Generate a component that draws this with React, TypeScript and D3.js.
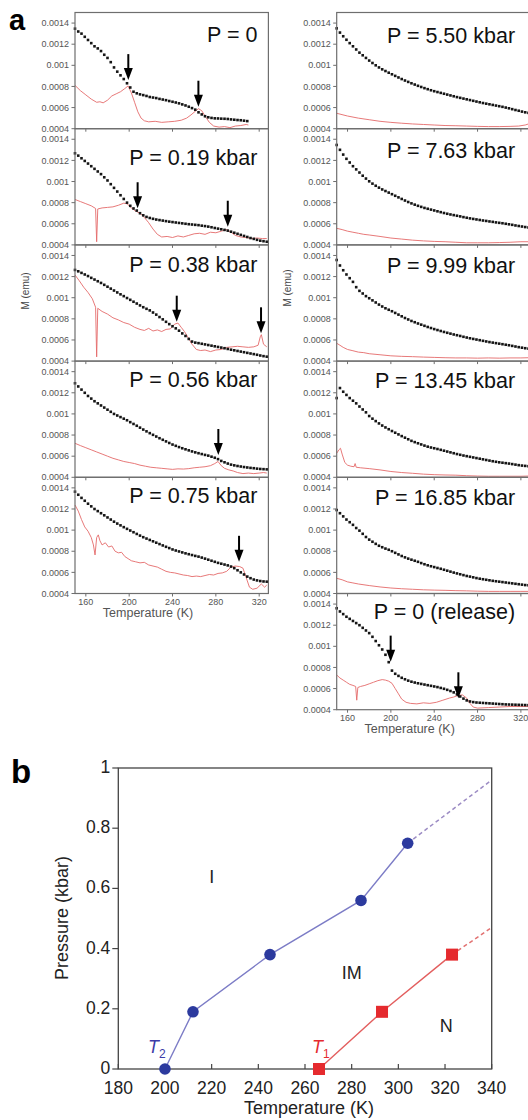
import React, { useRef, useEffect } from "react";
import * as d3 from "d3";

// temperature grid of the black M(T) dots (K)
const temps = [150, 153, 156, 159, 162, 165, 168, 171, 174, 177, 180, 183, 186, 189, 192, 195, 198, 201, 204, 207,
  210, 213, 216, 219, 222, 225, 228, 231, 234, 237, 240, 243, 246, 249, 252, 255, 258, 261, 264, 267,
  270, 273, 276, 279, 282, 285, 288, 291, 294, 297, 300, 303, 306, 309, 312, 315, 318, 321, 324, 327];

// black dots, M in units of 1e-4 emu, one value per entry of temps
const mP000 = [13.47, 13.2, 13.0, 12.7, 12.4, 12.1, 11.8, 11.6, 11.35, 11.0, 10.7, 10.3, 9.8, 9.4, 9.05, 8.7, 8.3, 7.9, 7.5, 7.35,
  7.25, 7.18, 7.1, 7.0, 6.95, 6.9, 6.82, 6.76, 6.7, 6.62, 6.55, 6.48, 6.4, 6.3, 6.2, 6.08, 5.95, 5.8, 5.55, 5.35,
  5.18, 5.08, 5.02, 4.98, 4.97, 4.95, 4.94, 4.92, 4.88, 4.85, 4.82, 4.8, 4.76, 4.72];
const mP019 = [12.67, 12.45, 12.2, 11.95, 11.7, 11.45, 11.2, 10.95, 10.7, 10.4, 10.1, 9.75, 9.4, 9.05, 8.7, 8.35, 8.0, 7.7, 7.45, 7.25,
  7.0, 6.8, 6.65, 6.55, 6.47, 6.4, 6.35, 6.3, 6.25, 6.2, 6.16, 6.12, 6.08, 6.04, 6.0, 5.96, 5.93, 5.9, 5.87, 5.82,
  5.78, 5.73, 5.67, 5.6, 5.54, 5.48, 5.42, 5.35, 5.25, 5.15, 5.05, 4.95, 4.85, 4.75, 4.65, 4.57, 4.48, 4.4, 4.35, 4.3];
const mP038 = [12.63, 12.5, 12.35, 12.2, 12.05, 11.88, 11.72, 11.56, 11.4, 11.22, 11.04, 10.86, 10.68, 10.5, 10.32, 10.15, 9.97, 9.8, 9.62, 9.45,
  9.27, 9.1, 8.95, 8.8, 8.6, 8.4, 8.17, 7.95, 7.72, 7.5, 7.3, 7.1, 6.88, 6.62, 6.38, 6.1, 5.85, 5.75, 5.7, 5.64,
  5.58, 5.52, 5.46, 5.4, 5.34, 5.28, 5.22, 5.15, 5.08, 5.02, 4.96, 4.9, 4.84, 4.78, 4.72, 4.66, 4.6, 4.53, 4.47, 4.42];
const mP056 = [12.9, 12.6, 12.3, 12.0, 11.7, 11.45, 11.2, 11.0, 10.8, 10.6, 10.4, 10.2, 10.0, 9.85, 9.7, 9.55, 9.4, 9.22, 9.05, 8.88,
  8.7, 8.52, 8.35, 8.18, 8.02, 7.86, 7.7, 7.55, 7.4, 7.25, 7.1, 6.98, 6.86, 6.75, 6.65, 6.55, 6.45, 6.36, 6.28, 6.2,
  6.12, 6.05, 5.95, 5.85, 5.72, 5.55, 5.42, 5.3, 5.2, 5.13, 5.07, 5.02, 4.97, 4.93, 4.89, 4.86, 4.82, 4.79, 4.77, 4.75];
const mP075 = [13.64, 13.35, 13.05, 12.78, 12.5, 12.25, 12.0, 11.8, 11.6, 11.4, 11.2, 11.0, 10.8, 10.62, 10.45, 10.28, 10.12, 9.96, 9.8, 9.64,
  9.48, 9.33, 9.2, 9.07, 8.94, 8.81, 8.68, 8.55, 8.42, 8.3, 8.17, 8.07, 7.98, 7.89, 7.8, 7.72, 7.64, 7.56, 7.49, 7.4,
  7.3, 7.2, 7.1, 7.0, 6.9, 6.82, 6.74, 6.66, 6.55, 6.4, 6.2, 6.0, 5.8, 5.6, 5.45, 5.32, 5.24, 5.18, 5.14, 5.12];
const mP550 = [13.5, 13.1, 12.75, 12.42, 12.1, 11.8, 11.5, 11.2, 10.95, 10.7, 10.45, 10.22, 10.0, 9.8, 9.62, 9.46, 9.3, 9.15, 9.0, 8.85,
  8.7, 8.56, 8.43, 8.3, 8.18, 8.06, 7.95, 7.84, 7.74, 7.64, 7.55, 7.47, 7.39, 7.31, 7.23, 7.15, 7.07, 6.99, 6.92, 6.85,
  6.78, 6.71, 6.64, 6.57, 6.5, 6.43, 6.37, 6.31, 6.25, 6.19, 6.13, 6.07, 6.0, 5.93, 5.85, 5.77, 5.7, 5.62, 5.55, 5.5];
const mP763 = [13.46, 13.0, 12.55, 12.15, 11.8, 11.45, 11.15, 10.85, 10.55, 10.28, 10.02, 9.8, 9.6, 9.42, 9.25, 9.1, 8.95, 8.8, 8.65, 8.5,
  8.35, 8.2, 8.06, 7.93, 7.81, 7.7, 7.6, 7.5, 7.42, 7.34, 7.26, 7.18, 7.1, 7.02, 6.95, 6.88, 6.82, 6.76, 6.7, 6.63,
  6.57, 6.51, 6.46, 6.41, 6.36, 6.31, 6.27, 6.22, 6.18, 6.13, 6.09, 6.05, 6.0, 5.95, 5.9, 5.84, 5.79, 5.74, 5.69, 5.65];
const mP999 = [13.57, 13.05, 12.6, 12.2, 11.85, 11.5, 11.0, 10.65, 10.4, 10.15, 9.95, 9.75, 9.55, 9.35, 9.17, 9.0, 8.86, 8.72, 8.56, 8.4,
  8.24, 8.08, 7.94, 7.8, 7.68, 7.56, 7.45, 7.34, 7.23, 7.13, 7.03, 6.94, 6.85, 6.76, 6.68, 6.6, 6.52, 6.45, 6.38, 6.3,
  6.23, 6.16, 6.1, 6.04, 5.98, 5.92, 5.86, 5.8, 5.75, 5.7, 5.65, 5.6, 5.55, 5.5, 5.44, 5.38, 5.32, 5.27, 5.22, 5.18];
const mP1345 = [11.5, 12.45, 12.1, 11.8, 11.5, 11.25, 11.0, 10.7, 10.42, 10.15, 9.8, 9.55, 9.32, 9.1, 8.9, 8.72, 8.55, 8.38, 8.22, 8.06,
  7.9, 7.75, 7.6, 7.45, 7.33, 7.22, 7.11, 7.0, 6.9, 6.82, 6.75, 6.68, 6.6, 6.52, 6.44, 6.36, 6.28, 6.2, 6.13, 6.06,
  6.0, 5.94, 5.88, 5.82, 5.76, 5.7, 5.64, 5.58, 5.52, 5.47, 5.42, 5.38, 5.34, 5.3, 5.25, 5.2, 5.15, 5.11, 5.08, 5.05];
const mP1685 = [11.9, 11.6, 11.3, 11.0, 10.75, 10.5, 10.2, 9.95, 9.65, 9.35, 9.1, 8.9, 8.7, 8.52, 8.38, 8.25, 8.14, 8.0, 7.85, 7.7,
  7.55, 7.42, 7.3, 7.2, 7.1, 7.0, 6.88, 6.77, 6.67, 6.58, 6.5, 6.42, 6.34, 6.25, 6.16, 6.07, 5.98, 5.9, 5.82, 5.74,
  5.66, 5.6, 5.53, 5.46, 5.4, 5.35, 5.3, 5.25, 5.2, 5.16, 5.12, 5.08, 5.04, 5.0, 4.96, 4.92, 4.88, 4.84, 4.8, 4.78];
const mRelease = [13.6, 13.3, 13.05, 12.8, 12.6, 12.4, 12.2, 12.0, 11.75, 11.5, 11.25, 10.9, 10.5, 10.1, 9.7, 9.2, 8.5, 7.7, 7.4, 7.2,
  7.02, 6.88, 6.75, 6.65, 6.57, 6.5, 6.44, 6.38, 6.32, 6.26, 6.2, 6.14, 6.06, 5.98, 5.88, 5.77, 5.64, 5.45, 5.25, 5.05,
  4.88, 4.78, 4.72, 4.68, 4.66, 4.64, 4.62, 4.6, 4.58, 4.56, 4.54, 4.52, 4.5, 4.49, 4.48, 4.47, 4.46, 4.45, 4.44, 4.43];

// red traces, [T (K), value in 1e-4 emu]
const rP000 = [[150, 8.1], [155, 7.6], [160, 7.2], [165, 6.8], [170, 6.5], [173, 6.55], [176, 6.45], [180, 6.7], [184, 7.1], [188, 7.3],
  [192, 7.5], [196, 7.8], [199, 8.05], [202, 7.4], [205, 6.5], [208, 5.6], [211, 5.0], [214, 4.75], [218, 4.65], [224, 4.7],
  [230, 4.6], [236, 4.65], [242, 4.7], [248, 4.8], [253, 5.0], [257, 5.3], [261, 5.65], [264, 5.9], [267, 5.7], [270, 5.2],
  [274, 4.6], [278, 4.25], [283, 4.15], [288, 4.2], [293, 4.1], [298, 4.25], [303, 4.3], [308, 4.4], [310, 4.35]];
const rP019 = [[150, 8.3], [155, 8.1], [160, 7.9], [165, 7.7], [169, 7.45], [170, 4.3], [171, 7.4], [175, 7.5], [180, 7.55], [185, 7.6],
  [190, 7.75], [195, 7.95], [198, 7.9], [202, 7.5], [206, 7.2], [210, 7.0], [214, 6.6], [218, 6.1], [222, 5.5], [226, 5.0],
  [230, 4.75], [235, 4.8], [240, 4.7], [245, 4.85], [250, 4.75], [255, 4.9], [260, 5.05], [265, 5.1], [270, 5.0], [275, 5.2],
  [280, 5.15], [285, 5.3], [290, 5.45], [294, 5.2], [298, 4.9], [303, 4.75], [308, 4.7], [313, 4.6], [318, 4.65], [323, 4.6], [327, 4.6]];
const rP038 = [[150, 12.15], [154, 11.6], [158, 11.0], [162, 10.5], [166, 9.9], [169, 9.1], [170, 4.4], [171, 9.0], [175, 8.7], [180, 8.45],
  [185, 8.1], [190, 7.9], [195, 7.65], [200, 7.5], [205, 7.2], [210, 7.0], [214, 6.9], [218, 7.1], [222, 6.85], [226, 6.95],
  [230, 6.8], [234, 7.0], [238, 7.05], [242, 7.5], [245, 7.6], [248, 7.2], [251, 6.8], [254, 6.3], [258, 5.6], [262, 5.1],
  [266, 5.0], [270, 5.05], [275, 4.9], [280, 5.05], [285, 5.1], [290, 5.3], [295, 5.35], [300, 5.4], [305, 5.35], [310, 5.3],
  [315, 5.35], [319, 5.5], [321, 6.3], [322, 6.5], [324, 5.6], [327, 5.35]];
const rP056 = [[150, 7.22], [155, 7.0], [160, 6.8], [165, 6.6], [170, 6.4], [175, 6.2], [180, 6.0], [185, 5.8], [190, 5.65], [195, 5.5],
  [200, 5.4], [205, 5.3], [210, 5.15], [215, 5.05], [220, 4.95], [225, 4.9], [230, 4.85], [235, 4.8], [240, 4.75], [245, 4.8],
  [250, 4.78], [255, 4.82], [260, 4.9], [265, 4.95], [270, 5.0], [275, 5.1], [279, 5.3], [282, 5.5], [285, 5.1], [288, 4.85],
  [292, 4.7], [296, 4.6], [300, 4.45], [305, 4.35], [310, 4.4], [315, 4.35], [320, 4.4], [324, 4.45], [327, 4.4]];
const rP075 = [[150, 12.38], [153, 11.8], [156, 11.0], [159, 10.3], [162, 9.9], [165, 9.3], [167, 8.6], [168.5, 7.65], [170, 9.3], [171.5, 9.55],
  [173, 9.0], [175, 8.6], [178, 8.8], [181, 8.4], [184, 8.5], [187, 8.0], [190, 7.85], [193, 7.9], [196, 7.5], [199, 7.3],
  [202, 7.1], [206, 7.0], [210, 6.9], [214, 6.95], [218, 6.7], [222, 6.6], [226, 6.5], [230, 6.3], [234, 6.1], [238, 6.0],
  [242, 5.95], [246, 5.85], [250, 5.75], [254, 5.7], [258, 5.6], [262, 5.65], [266, 5.6], [270, 5.7], [274, 5.8], [278, 5.75],
  [282, 5.9], [286, 5.95], [290, 6.1], [294, 6.5], [298, 6.6], [302, 6.55], [305, 6.4], [308, 5.5], [311, 4.6], [314, 4.4],
  [318, 4.5], [322, 4.9], [325, 4.6], [327, 4.8]];
const rP550 = [[150, 5.46], [160, 5.2], [170, 5.0], [180, 4.85], [190, 4.7], [200, 4.6], [210, 4.52], [220, 4.45], [230, 4.4], [240, 4.35],
  [250, 4.3], [260, 4.28], [270, 4.25], [280, 4.22], [290, 4.2], [300, 4.2], [310, 4.22], [318, 4.25], [324, 4.35], [327, 4.45]];
const rP763 = [[150, 5.57], [155, 5.45], [160, 5.3], [165, 5.2], [170, 5.1], [175, 5.0], [180, 4.94], [190, 4.8], [200, 4.65], [210, 4.55],
  [220, 4.45], [230, 4.38], [240, 4.33], [250, 4.3], [260, 4.25], [270, 4.2], [280, 4.2], [290, 4.2], [300, 4.22], [310, 4.25], [320, 4.3], [327, 4.3]];
const rP999 = [[150, 5.69], [153, 5.5], [156, 5.3], [160, 5.1], [165, 4.98], [170, 4.85], [175, 4.8], [180, 4.7], [190, 4.6], [200, 4.5],
  [210, 4.45], [220, 4.42], [230, 4.38], [240, 4.35], [250, 4.32], [260, 4.3], [270, 4.3], [280, 4.28], [290, 4.3], [300, 4.28], [310, 4.3], [320, 4.3], [327, 4.32]];
const rP1345 = [[150, 6.27], [152, 6.6], [153.5, 6.75], [155, 6.2], [157.5, 5.4], [160, 5.15], [163, 5.05], [166, 5.0], [167, 5.3], [168, 4.95],
  [172, 4.9], [180, 4.82], [190, 4.7], [200, 4.55], [210, 4.45], [220, 4.38], [230, 4.3], [240, 4.25], [250, 4.22], [260, 4.2],
  [270, 4.15], [280, 4.12], [290, 4.1], [300, 4.1], [310, 4.1], [320, 4.1], [327, 4.12]];
const rP1685 = [[150, 5.44], [155, 5.3], [160, 5.1], [165, 5.0], [170, 4.9], [180, 4.75], [190, 4.62], [200, 4.52], [210, 4.45], [220, 4.4],
  [230, 4.35], [240, 4.32], [250, 4.3], [260, 4.27], [270, 4.25], [280, 4.22], [290, 4.2], [300, 4.2], [310, 4.2], [320, 4.2], [327, 4.2]];
const rRelease = [[150, 7.29], [153, 7.0], [156, 6.8], [159, 6.6], [162, 6.4], [165, 6.3], [167.5, 6.2], [168.5, 4.9], [169.5, 6.1], [172, 6.2],
  [176, 6.3], [180, 6.45], [184, 6.6], [188, 6.75], [192, 6.85], [195, 6.8], [198, 6.7], [201, 6.5], [204, 6.0], [207, 5.5],
  [210, 5.0], [214, 4.7], [218, 4.6], [224, 4.55], [230, 4.65], [236, 4.6], [242, 4.7], [248, 4.9], [254, 5.1], [258, 5.2],
  [262, 5.35], [266, 5.4], [270, 5.1], [273, 4.6], [276, 4.25], [280, 4.15], [290, 4.2], [300, 4.25], [310, 4.3], [320, 4.3], [327, 4.3]];

// arrow tips [T, value in 1e-4 emu]
const arrP000 = [[199.2, 8.6], [263.9, 6.08]];
const arrP019 = [[207.8, 7.47], [291, 5.72]];
const arrP038 = [[243.9, 7.73], [321.7, 6.63]];
const arrP056 = [[282.3, 6.11]];
const arrP075 = [[301.4, 7.0]];
const arrRelease = [[199.8, 8.55], [262.3, 5.08]];

const panelLabels = ["P = 0", "P = 0.19 kbar", "P = 0.38 kbar", "P = 0.56 kbar", "P = 0.75 kbar",
  "P = 5.50 kbar", "P = 7.63 kbar", "P = 9.99 kbar", "P = 13.45 kbar", "P = 16.85 kbar", "P = 0 (release)"];
const yTicksA = [4, 6, 8, 10, 12, 14];
const yTickLabelsA = ["0.0004", "0.0006", "0.0008", "0.001", "0.0012", "0.0014"];
const xTicksA = [160, 200, 240, 280, 320];

// panel b: phase boundaries [T (K), P (kbar)]
const lineT2 = [[200, 0], [212, 0.19], [245, 0.38], [284, 0.56], [304, 0.75]];
const lineT1 = [[266, 0], [293, 0.19], [323, 0.38]];
const dashT2 = [[304, 0.75], [340, 0.96]];
const dashT1 = [[323, 0.38], [340, 0.47]];
const xTicksB = [180, 200, 220, 240, 260, 280, 300, 320, 340];
const yTicksB = [0, 0.2, 0.4, 0.6, 0.8, 1];
const phaseNames = ["I", "IM", "N"];
const phaseT = [220, 280, 320.5];
const phaseP = [0.64, 0.32, 0.145];

const FONT = "'Liberation Sans', Arial, Helvetica, sans-serif";

const panels = [
  { col: 0, row: 0, black: mP000, red: rP000, arrows: arrP000, titleDy: 29 },
  { col: 0, row: 1, black: mP019, red: rP019, arrows: arrP019, titleDy: 36 },
  { col: 0, row: 2, black: mP038, red: rP038, arrows: arrP038, titleDy: 27 },
  { col: 0, row: 3, black: mP056, red: rP056, arrows: arrP056, titleDy: 25.5 },
  { col: 0, row: 4, black: mP075, red: rP075, arrows: arrP075, titleDy: 26 },
  { col: 1, row: 0, black: mP550, red: rP550, arrows: [], titleDy: 30 },
  { col: 1, row: 1, black: mP763, red: rP763, arrows: [], titleDy: 29.3 },
  { col: 1, row: 2, black: mP999, red: rP999, arrows: [], titleDy: 28 },
  { col: 1, row: 3, black: mP1345, red: rP1345, arrows: [], titleDy: 27 },
  { col: 1, row: 4, black: mP1685, red: rP1685, arrows: [], titleDy: 27.7 },
  { col: 1, row: 5, black: mRelease, red: rRelease, arrows: arrRelease, titleDy: 25.5 },
];

const App = () => {
  const svgRef = useRef(null);

  useEffect(() => {
    const svg = d3.select(svgRef.current);
    svg.selectAll("*").remove();
    svg.attr("width", 528).attr("height", 1120);
    svg.append("rect").attr("width", 528).attr("height", 1120).attr("fill", "#fff");

    // ---- panel a ----
    const colX0 = [75, 336.7];
    const pW = 193.4, pTop = 12.5, pH = 116.2;
    const frameColor = "#6e6e6e";

    panels.forEach((p, k) => {
      const x0 = colX0[p.col];
      const top = pTop + p.row * pH, bottom = top + pH;
      const x = d3.scaleLinear().domain([150, 328.5]).range([x0, x0 + pW]);
      const y = d3.scaleLinear().domain([4, 15]).range([bottom, top]);
      const g = svg.append("g");

      g.append("path")
        .datum(p.red)
        .attr("d", d3.line().x(d => x(d[0])).y(d => y(d[1])))
        .attr("fill", "none")
        .attr("stroke", "#e46a6a")
        .attr("stroke-width", 0.9);

      g.selectAll("rect.dot")
        .data(p.black)
        .join("rect")
        .attr("x", (d, i) => x(temps[i]) - 1.3)
        .attr("y", d => y(d) - 1.3)
        .attr("width", 2.6)
        .attr("height", 2.6)
        .attr("fill", "#151515");

      p.arrows.forEach(a => {
        const ax = x(a[0]), ay = y(a[1]);
        g.append("line").attr("x1", ax).attr("x2", ax).attr("y1", ay - 26).attr("y2", ay - 10)
          .attr("stroke", "#000").attr("stroke-width", 2);
        g.append("path").attr("d", `M${ax - 4.5},${ay - 12}L${ax + 4.5},${ay - 12}L${ax},${ay}Z`).attr("fill", "#000");
      });

      g.append("rect").attr("x", x0).attr("y", top).attr("width", pW).attr("height", pH)
        .attr("fill", "none").attr("stroke", frameColor).attr("stroke-width", 1.2);

      yTicksA.forEach((v, i) => {
        g.append("line").attr("x1", x0 - 3.5).attr("x2", x0).attr("y1", y(v)).attr("y2", y(v))
          .attr("stroke", frameColor).attr("stroke-width", 1);
        g.append("text").attr("x", x0 - 6).attr("y", y(v)).attr("dy", "0.35em")
          .attr("text-anchor", "end").attr("font-family", FONT).attr("font-size", 9)
          .attr("fill", "#555").text(yTickLabelsA[i]);
      });

      xTicksA.forEach(t => {
        g.append("line").attr("x1", x(t)).attr("x2", x(t)).attr("y1", bottom).attr("y2", bottom + 3)
          .attr("stroke", frameColor).attr("stroke-width", 1);
      });

      const lastRow = p.col === 0 ? 4 : 5;
      if (p.row === lastRow) {
        xTicksA.forEach(t => {
          g.append("text").attr("x", x(t)).attr("y", bottom + 11.5).attr("text-anchor", "middle")
            .attr("font-family", FONT).attr("font-size", 9).attr("fill", "#555").text(t);
        });
        g.append("text").attr("x", x0 + 73).attr("y", bottom + 23).attr("text-anchor", "middle")
          .attr("font-family", FONT).attr("font-size", 12.5).attr("fill", "#555").text("Temperature (K)");
      }

      g.append("text").attr("x", x0 + pW - (p.col === 0 ? 11 : 15)).attr("y", top + p.titleDy)
        .attr("text-anchor", "end").attr("font-family", FONT).attr("font-size", 21.5)
        .attr("fill", "#111").text(panelLabels[k]);
    });

    [[29, 291], [290.7, 288]].forEach(([lx, ly]) => {
      svg.append("text").attr("transform", `translate(${lx},${ly}) rotate(-90)`)
        .attr("text-anchor", "middle").attr("font-family", FONT).attr("font-size", 10)
        .attr("fill", "#444").text("M (emu)");
    });

    svg.append("text").attr("x", 9).attr("y", 30).attr("font-family", FONT).attr("font-weight", "bold")
      .attr("font-size", 29).attr("fill", "#000").text("a");

    // ---- panel b ----
    const bx = d3.scaleLinear().domain([180, 340]).range([118.3, 491.7]);
    const by = d3.scaleLinear().domain([0, 1]).range([1069, 768]);
    const gb = svg.append("g");
    const line = d3.line().x(d => bx(d[0])).y(d => by(d[1]));

    gb.append("text").attr("x", 11).attr("y", 783).attr("font-family", FONT).attr("font-weight", "bold")
      .attr("font-size", 33).attr("fill", "#000").text("b");

    gb.append("path").datum(dashT2).attr("d", line).attr("fill", "none").attr("stroke", "#9c8cc4")
      .attr("stroke-width", 1.5).attr("stroke-dasharray", "4,3");
    gb.append("path").datum(dashT1).attr("d", line).attr("fill", "none").attr("stroke", "#e27272")
      .attr("stroke-width", 1.5).attr("stroke-dasharray", "4,3");
    gb.append("path").datum(lineT2).attr("d", line).attr("fill", "none").attr("stroke", "#7c7cc6")
      .attr("stroke-width", 1.4);
    gb.append("path").datum(lineT1).attr("d", line).attr("fill", "none").attr("stroke", "#e35e5e")
      .attr("stroke-width", 1.4);

    gb.append("rect").attr("x", bx(180)).attr("y", by(1)).attr("width", bx(340) - bx(180))
      .attr("height", by(0) - by(1)).attr("fill", "none").attr("stroke", "#444").attr("stroke-width", 1.3);

    xTicksB.forEach(t => {
      gb.append("line").attr("x1", bx(t)).attr("x2", bx(t)).attr("y1", by(0)).attr("y2", by(0) - 5)
        .attr("stroke", "#444").attr("stroke-width", 1.2);
      gb.append("text").attr("x", bx(t)).attr("y", 1093.5).attr("text-anchor", "middle")
        .attr("font-family", FONT).attr("font-size", 17.5).attr("fill", "#222").text(t);
    });
    yTicksB.forEach(v => {
      gb.append("line").attr("x1", bx(180) - 6).attr("x2", bx(180)).attr("y1", by(v)).attr("y2", by(v))
        .attr("stroke", "#444").attr("stroke-width", 1.2);
      gb.append("text").attr("x", bx(180) - 8).attr("y", by(v)).attr("dy", "0.28em").attr("text-anchor", "end")
        .attr("font-family", FONT).attr("font-size", 17.5).attr("fill", "#222").text(String(v));
    });

    gb.selectAll("circle.t2").data(lineT2).join("circle")
      .attr("cx", d => bx(d[0])).attr("cy", d => by(d[1])).attr("r", 5.8).attr("fill", "#2c3a9e");
    gb.selectAll("rect.t1").data(lineT1).join("rect")
      .attr("x", d => bx(d[0]) - 6).attr("y", d => by(d[1]) - 6).attr("width", 12).attr("height", 12)
      .attr("fill", "#e52a2e");

    gb.append("text").attr("x", 309).attr("y", 1114).attr("text-anchor", "middle")
      .attr("font-family", FONT).attr("font-size", 18).attr("fill", "#222").text("Temperature (K)");
    gb.append("text").attr("transform", "translate(68,918) rotate(-90)").attr("text-anchor", "middle")
      .attr("font-family", FONT).attr("font-size", 18).attr("fill", "#222").text("Pressure (kbar)");

    phaseNames.forEach((n, i) => {
      gb.append("text").attr("x", bx(phaseT[i])).attr("y", by(phaseP[i])).attr("dy", "0.35em")
        .attr("text-anchor", "middle").attr("font-family", FONT).attr("font-size", 18)
        .attr("fill", "#222").text(n);
    });

    [["2", "#3c3ca8", 148], ["1", "#e52a2e", 312]].forEach(([sub, color, tx]) => {
      const t = gb.append("text").attr("x", tx).attr("y", 1053).attr("font-family", FONT)
        .attr("font-size", 18).attr("fill", color);
      t.append("tspan").attr("font-style", "italic").text("T");
      t.append("tspan").attr("font-size", 12).attr("dy", 5).text(sub);
    });
  }, []);

  return <svg ref={svgRef} style={{ position: "absolute", left: 0, top: 0 }}></svg>;
};

export default App;
